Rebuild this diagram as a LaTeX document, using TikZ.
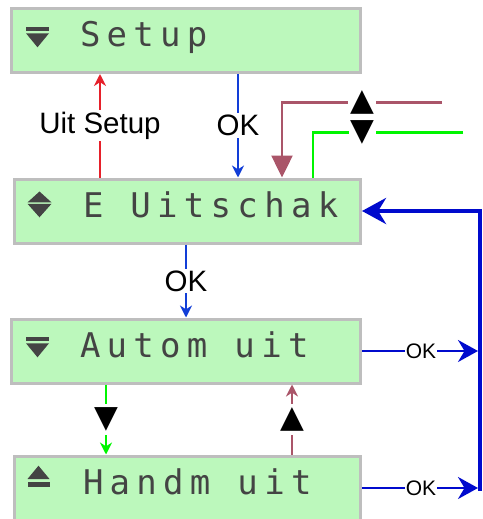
\documentclass[tikz,border=0pt]{standalone}
\usepackage{fontspec}
\setmainfont{Liberation Sans}
\newfontfamily\lcdfont[LetterSpace=18.5]{DejaVu Sans Mono}
\newfontfamily\symfont{DejaVu Sans}
\newcommand\lcdgap{\hspace*{27pt}}
\usetikzlibrary{arrows.meta, calc}
\definecolor{lcd_green}{RGB}{188,248,188}
\definecolor{lcd_gray}{RGB}{190,190,190}
\definecolor{lcd_text}{RGB}{68,68,68}
\definecolor{key_red}{RGB}{230,32,42}
\definecolor{key_blue}{RGB}{18,62,215}
\definecolor{side_blue}{RGB}{0,10,205}
\definecolor{key_maroon}{RGB}{170,85,105}
\definecolor{key_green}{RGB}{0,245,0}

\begin{document}
\begin{tikzpicture}[x=1pt, y=-1pt, >=Stealth, font=\fontsize{29.5}{32}\selectfont,
    lcd/.style={draw=lcd_gray, line width=3pt, fill=lcd_green, text=lcd_text, text width=#1,
      align=left, inner xsep=68.5pt, minimum height=64pt, text height=24pt, text depth=12pt,
      font=\lcdfont\fontsize{34}{36}\selectfont},
    lbl/.style={fill=white, inner xsep=1pt, inner ysep=2pt},
    okl/.style={fill=white, text=black, inner sep=1pt, font=\fontsize{21}{24}\selectfont},
    tri/.style={fill=white, text=black, inner xsep=2pt, inner ysep=4pt, font=\symfont\fontsize{31}{32}\selectfont},
    ln/.style={draw=#1, line width=2pt, -{Stealth[length=12pt, width=12pt]}}]
  \useasboundingbox (0,0) rectangle (482,519);
  \clip (0,0) rectangle (482,519);
  % the four screens
  \node[lcd=212pt] (setup) at (186,40.5) {Setup};
  \node[lcd=209pt] (euit)  at (187.5,211) {E\lcdgap Uitschak};
  \node[lcd=212pt] (autom) at (186,351) {Autom\lcdgap uit};
  \node[lcd=209pt] (handm) at (187.5,488) {Handm\lcdgap uit};
  % screen icons
  \foreach \y in {0,310} {
    \fill[lcd_text] (26,27.3+\y) rectangle (49,30.7+\y);
    \fill[lcd_text] (26,33.3+\y) -- (49,33.3+\y) -- (37.5,47.3+\y) -- cycle;
  }
  \fill[lcd_text] (27.5,202.4) -- (51.5,202.4) -- (39.5,191.5) -- cycle;
  \fill[lcd_text] (27.5,203.8) -- (51.5,203.8) -- (39.5,217.3) -- cycle;
  \fill[lcd_text] (27.5,479) -- (49.5,479) -- (38.5,465.7) -- cycle;
  \fill[lcd_text] (27.5,482.3) rectangle (49.5,486.7);
  % columns and loose ends
  \coordinate (xr) at (100,0);
  \coordinate (xb) at (238,0);
  \coordinate (xm) at (282,0);
  \coordinate (xg) at (313,0);
  \coordinate (xo) at (186,0);
  \coordinate (xd) at (106,0);
  \coordinate (xu) at (292,0);
  \coordinate (m0) at (442,102.7);
  \coordinate (g0) at (463,132.7);
  \coordinate (br) at (480,490.5);
  % keys between the screens
  \draw[ln=key_red] (euit.north -| xr) -- node[lbl] {Uit Setup} (setup.south -| xr);
  \draw[ln=key_blue] (setup.south -| xb) -- node[lbl] {OK} (euit.north -| xb);
  \draw[key_maroon, line width=2.5pt, -{Triangle[length=22pt, width=21pt]}]
    (m0) -- node[tri] {▲} (m0 -| xm) -- (euit.north -| xm);
  \draw[key_green, line width=2.5pt] (g0) -- node[tri, pos=0.67] {▼} (g0 -| xg) -- (euit.north -| xg);
  \draw[ln=key_blue] (euit.south -| xo) -- node[lbl] {OK} (autom.north -| xo);
  \draw[ln=key_green] (autom.south -| xd) -- node[tri] {▼} (handm.north -| xd);
  \draw[ln=key_maroon] (handm.north -| xu) -- node[tri] {▲} (autom.south -| xu);
  % OK back to E Uitschak
  \draw[side_blue, line width=2pt, -{Stealth[length=20pt, width=22pt]}, shorten >=2pt]
    (autom.east) -- node[okl] {OK} (autom.east -| br);
  \draw[side_blue, line width=2pt, -{Stealth[length=20pt, width=22pt]}, shorten >=2pt]
    (handm.east) -- node[okl] {OK} (handm.east -| br);
  \draw[side_blue, line width=4.5pt, -{Stealth[length=24pt, width=26pt]}] (br) |- (euit.east);
\end{tikzpicture}
\end{document}
